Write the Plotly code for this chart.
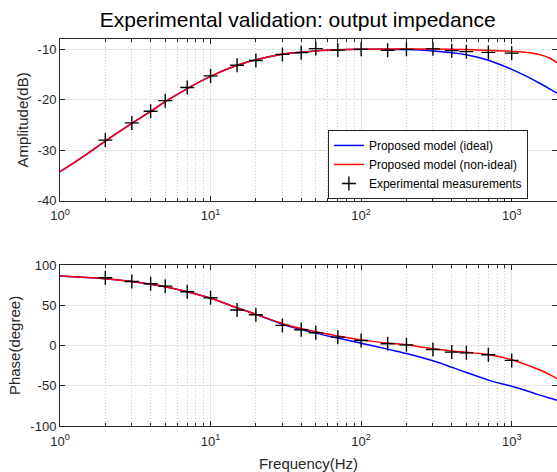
import plotly.graph_objects as go

# ---- data ----
freq_meas = [2, 3, 4, 5, 7, 10, 15, 20, 30, 40, 50, 70, 100, 150, 200, 300, 400, 500, 700, 1000]
amp_meas = [-28.0, -24.6, -22.3, -20.2, -17.6, -15.3, -13.2, -12.25, -11.05, -10.7, -9.9, -10.2,
            -10.05, -10.25, -10.05, -9.95, -10.3, -10.5, -10.65, -10.8]
phase_meas = [84.2, 79.6, 76.7, 73.75, 66.7, 59.4, 44.2, 38.3, 25.0, 19.6, 15.8, 10.4,
              6.25, 2.1, 0.8, -4.9, -8.2, -9.1, -11.5, -18.5]

freq_model = [1, 1.5, 2, 3, 4, 5, 7, 10, 15, 20, 30, 40, 50, 70, 100, 150, 200, 300, 400,
              500, 700, 1000, 1200, 1500, 1800, 2000]
amp_ideal = [-34.25, -30.8, -28.2, -24.7, -22.3, -20.4, -17.8, -15.4, -13.2, -12.1, -11.0, -10.6,
             -10.35, -10.15, -10.05, -10.05, -10.1, -10.35, -10.7, -11.1, -12.2, -14.0, -15.1,
             -16.6, -17.9, -18.7]
amp_nonideal = [-34.25, -30.8, -28.2, -24.7, -22.3, -20.4, -17.8, -15.4, -13.2, -12.1, -11.0, -10.6,
                -10.35, -10.15, -10.05, -10.0, -10.0, -10.0, -10.05, -10.1, -10.25, -10.45, -10.6,
                -11.0, -11.8, -12.7]
phase_ideal = [86.5, 84.6, 83.0, 79.5, 76.2, 73.0, 66.8, 58.8, 46.9, 38.8, 26.5, 20.0, 15.4, 9.2,
               2.9, -4.5, -10.0, -19.0, -27.0, -33.5, -43.0, -50.6, -55.0, -61.0, -65.5, -67.9]
phase_nonideal = [86.5, 84.6, 83.0, 79.5, 76.2, 73.0, 66.8, 58.8, 46.9, 38.8, 27.3, 21.0, 17.0,
                  11.7, 7.0, 3.0, 0.8, -4.1, -6.8, -8.5, -11.1, -17.7, -22.6, -29.5, -36.5, -41.0]

x_tickvals = [1, 10, 100, 1000]
x_ticktext = ["10<sup>0</sup>", "10<sup>1</sup>", "10<sup>2</sup>", "10<sup>3</sup>"]
amp_ticks = [-40, -30, -20, -10]
phase_ticks = [-100, -50, 0, 50, 100]

minor_vals = [m * d for d in [1, 10, 100, 1000] for m in range(2, 10) if m * d <= 2000]

FONT = "Liberation Sans, Arial, sans-serif"
BLUE = "#0000ff"
RED = "#ff0000"
AXC = "#262626"

fig = go.Figure()

meas_marker = dict(symbol="cross-thin", size=10, line=dict(color="black", width=1.4))

# Amplitude
fig.add_trace(go.Scatter(x=freq_model, y=amp_ideal, mode="lines", line=dict(color=BLUE, width=1.5, shape="spline"),
                         name="Proposed model (ideal)", xaxis="x", yaxis="y"))
fig.add_trace(go.Scatter(x=freq_model, y=amp_nonideal, mode="lines", line=dict(color=RED, width=1.5, shape="spline"),
                         name="Proposed model (non-ideal)", xaxis="x", yaxis="y"))
fig.add_trace(go.Scatter(x=freq_meas, y=amp_meas, mode="markers", marker=meas_marker,
                         name="Experimental measurements", xaxis="x", yaxis="y"))
# Phase
fig.add_trace(go.Scatter(x=freq_model, y=phase_ideal, mode="lines", line=dict(color=BLUE, width=1.5, shape="spline"),
                         showlegend=False, xaxis="x2", yaxis="y2"))
fig.add_trace(go.Scatter(x=freq_model, y=phase_nonideal, mode="lines", line=dict(color=RED, width=1.5, shape="spline"),
                         showlegend=False, xaxis="x2", yaxis="y2"))
fig.add_trace(go.Scatter(x=freq_meas, y=phase_meas, mode="markers", marker=meas_marker,
                         showlegend=False, xaxis="x2", yaxis="y2"))

axcommon = dict(showline=True, linecolor=AXC, linewidth=1, mirror="allticks",
                ticks="inside", tickcolor=AXC, ticklen=5,
                showgrid=True, gridcolor="#e3e3e3", gridwidth=1, zeroline=False,
                tickfont=dict(family=FONT, size=13, color=AXC))

xcommon = dict(axcommon, type="log", range=[0, 3.30103], tickmode="array",
               tickvals=x_tickvals, ticktext=x_ticktext, ticklabelstandoff=3,
               minor=dict(tickmode="array", tickvals=minor_vals, ticks="inside", ticklen=3,
                          tickcolor=AXC, showgrid=True, gridcolor="#c8c8c8", griddash="1px,2px"))

fig.update_layout(
    width=557, height=472,
    margin=dict(l=60, r=0, t=39, b=46),
    paper_bgcolor="white", plot_bgcolor="white",
    font=dict(family=FONT, color=AXC),
    title=dict(text="Experimental validation: output impedance", x=0.5345, xref="container",
               xanchor="center", y=0.958, yref="container", yanchor="middle",
               font=dict(family=FONT, size=21, color="black")),
    xaxis=dict(xcommon, domain=[0, 1], anchor="y"),
    yaxis=dict(axcommon, domain=[0.582, 1.0], anchor="x", range=[-40, -8], tickmode="array",
               tickvals=amp_ticks, ticktext=[str(v) for v in amp_ticks],
               title=dict(text="Amplitude(dB)", font=dict(family=FONT, size=15, color=AXC), standoff=5)),
    xaxis2=dict(xcommon, domain=[0, 1], anchor="y2",
                title=dict(text="Frequency(Hz)", font=dict(family=FONT, size=15, color=AXC), standoff=12)),
    yaxis2=dict(axcommon, domain=[0, 0.416], anchor="x2", range=[-100, 100], tickmode="array",
                tickvals=phase_ticks, ticktext=[str(v) for v in phase_ticks],
                title=dict(text="Phase(degree)", font=dict(family=FONT, size=15, color=AXC), standoff=6)),
    legend=dict(x=0.539, y=0.765, xanchor="left", yanchor="top",
                bgcolor="white", bordercolor=AXC, borderwidth=1,
                font=dict(family=FONT, size=12, color="black"), tracegroupgap=0),
    showlegend=True,
)

fig.write_html("out.html", config={"displayModeBar": False},
               post_script="document.body.style.margin='0';document.body.style.overflow='hidden';")
